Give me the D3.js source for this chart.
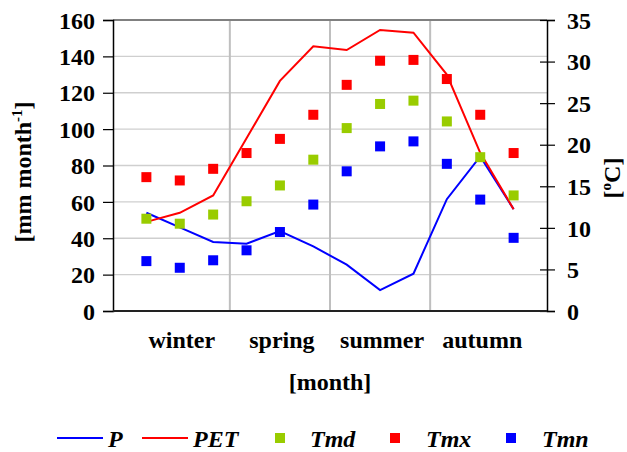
<!DOCTYPE html>
<html>
<head>
<meta charset="utf-8">
<style>
  body { margin: 0; background: #fff; }
</style>
</head>
<body>
<svg width="627" height="452"></svg>
<script src="https://d3js.org/d3.v7.min.js"></script>
<script>
// months, seasons shown every third month
var months = ['1','2','3','4','5','6','7','8','9','10','11','12'];
var seasons = ['winter', 'spring', 'summer', 'autumn'];
var seasonMonths = ['2', '5', '8', '11'];

// left axis series [mm month-1]
var P   = [54, 46, 38, 37, 44, 35.5, 25.5, 11.5, 20.5, 61.5, 85, 56];
var PET = [49, 54, 63.5, 95, 126.5, 145.5, 143.5, 154.5, 153, 130, 87, 56];

// right axis series [°C]
var Tmd = [11.1, 10.5, 11.6, 13.2, 15.1, 18.2, 22.0, 24.9, 25.3, 22.8, 18.5, 13.9];
var Tmx = [16.1, 15.7, 17.1, 19.0, 20.7, 23.6, 27.2, 30.1, 30.2, 27.9, 23.6, 19.0];
var Tmn = [6.0, 5.2, 6.1, 7.3, 9.5, 12.8, 16.8, 19.8, 20.4, 17.7, 13.4, 8.8];

var leftTicks = [0, 20, 40, 60, 80, 100, 120, 140, 160];
var rightTicks = [0, 5, 10, 15, 20, 25, 30, 35];

var FONT = "'Liberation Serif', 'Times New Roman', serif";
var FS = 24;

var svg = d3.select('svg');
var margin = {left: 113, right: 80, top: 20, bottom: 141};
var width = 627 - margin.left - margin.right;
var height = 452 - margin.top - margin.bottom;
var g = svg.append('g').attr('transform', `translate(${margin.left},${margin.top})`);

function txt(sel) {
  return sel.style('font-family', FONT).style('font-weight', 'bold')
    .style('font-size', FS + 'px').attr('fill', '#000');
}

var x = d3.scalePoint().domain(months).range([0, width]).padding(1);
var yL = d3.scaleLinear().domain([0, 160]).range([height, 0]);
var yR = d3.scaleLinear().domain([0, 35]).range([height, 0]);

// horizontal grid
g.append('g').selectAll('line').data(leftTicks.slice(1, -1)).join('line')
  .attr('x1', 0).attr('x2', width)
  .attr('y1', d => yL(d)).attr('y2', d => yL(d))
  .attr('stroke', '#cfcfcf').attr('stroke-width', 1.3);

// vertical season boundaries
var step = x.step();
g.append('g').selectAll('line').data(['3', '6', '9']).join('line')
  .attr('x1', d => x(d) + step / 2).attr('x2', d => x(d) + step / 2)
  .attr('y1', 0).attr('y2', height)
  .attr('stroke', '#bfbfbf').attr('stroke-width', 2);

// top frame
g.append('line').attr('x1', 0).attr('x2', width).attr('y1', 0).attr('y2', 0)
  .attr('stroke', '#808080').attr('stroke-width', 2);

// left axis
var axL = g.append('g').call(d3.axisLeft(yL).tickValues(leftTicks).tickSize(10).tickPadding(8));
axL.select('.domain').attr('stroke', '#000').attr('stroke-width', 1.5);
axL.selectAll('.tick line').attr('stroke', '#000').attr('stroke-width', 1.2);
txt(axL.selectAll('.tick text')).attr('dy', '0.34em');

// right axis
var axR = g.append('g').attr('transform', `translate(${width},0)`)
  .call(d3.axisRight(yR).tickValues(rightTicks).tickSize(8).tickPadding(12));
axR.select('.domain').attr('stroke', '#000').attr('stroke-width', 1.5);
axR.selectAll('.tick line').attr('x1', -7).attr('stroke', '#000').attr('stroke-width', 1.2);
txt(axR.selectAll('.tick text')).attr('dy', '0.34em');

// bottom axis
g.append('line').attr('x1', 0).attr('x2', width).attr('y1', height).attr('y2', height)
  .attr('stroke', '#222').attr('stroke-width', 2);

// season labels
txt(g.append('g').selectAll('text').data(seasons).join('text'))
  .attr('x', (d, i) => x(seasonMonths[i]) + 2)
  .attr('y', height + 37)
  .attr('text-anchor', 'middle')
  .text(d => d);

// lines
var lineL = d3.line().x((d, i) => x(months[i])).y(d => yL(d));
g.append('path').datum(P).attr('d', lineL).attr('fill', 'none').attr('stroke', '#0000ff').attr('stroke-width', 2);
g.append('path').datum(PET).attr('d', lineL).attr('fill', 'none').attr('stroke', '#ff0000').attr('stroke-width', 2);

// square markers
var sq = 10;
function squares(data, color) {
  g.append('g').selectAll('rect').data(data).join('rect')
    .attr('x', (d, i) => x(months[i]) - sq / 2)
    .attr('y', d => yR(d) - sq / 2)
    .attr('width', sq).attr('height', sq)
    .attr('fill', color);
}
squares(Tmd, '#99cc00');
squares(Tmx, '#ff0000');
squares(Tmn, '#0000ff');

// axis titles
txt(svg.append('text'))
  .attr('transform', 'translate(31,172) rotate(-90)')
  .attr('text-anchor', 'middle')
  .call(t => {
    t.append('tspan').text('[mm month');
    t.append('tspan').attr('dy', -9).style('font-size', '15px').text('-1');
    t.append('tspan').attr('dy', 9).text(']');
  });
txt(svg.append('text'))
  .attr('transform', 'translate(620,178) rotate(-90)')
  .attr('text-anchor', 'middle')
  .call(t => {
    t.append('tspan').text('[');
    t.append('tspan').attr('dy', -9).style('font-size', '15px').text('o');
    t.append('tspan').attr('dy', 9).text('C]');
  });
txt(svg.append('text')).attr('x', 330).attr('y', 390).attr('text-anchor', 'middle').text('[month]');

// legend
var legend = svg.append('g').attr('transform', 'translate(0,438)');
var legItems = [
  {name: 'P', color: '#0000ff', type: 'line', x: 57, tx: 108},
  {name: 'PET', color: '#ff0000', type: 'line', x: 142, tx: 193},
  {name: 'Tmd', color: '#99cc00', type: 'sq', x: 275, tx: 310},
  {name: 'Tmx', color: '#ff0000', type: 'sq', x: 390, tx: 426},
  {name: 'Tmn', color: '#0000ff', type: 'sq', x: 506, tx: 542}
];
legItems.forEach(function (d) {
  if (d.type === 'line') {
    legend.append('line').attr('x1', d.x).attr('x2', d.x + 46).attr('y1', 0).attr('y2', 0)
      .attr('stroke', d.color).attr('stroke-width', 2);
  } else {
    legend.append('rect').attr('x', d.x).attr('y', -5).attr('width', 10).attr('height', 10).attr('fill', d.color);
  }
  txt(legend.append('text')).attr('x', d.tx).attr('y', 9)
    .style('font-style', 'italic').text(d.name);
});
</script>
</body>
</html>
